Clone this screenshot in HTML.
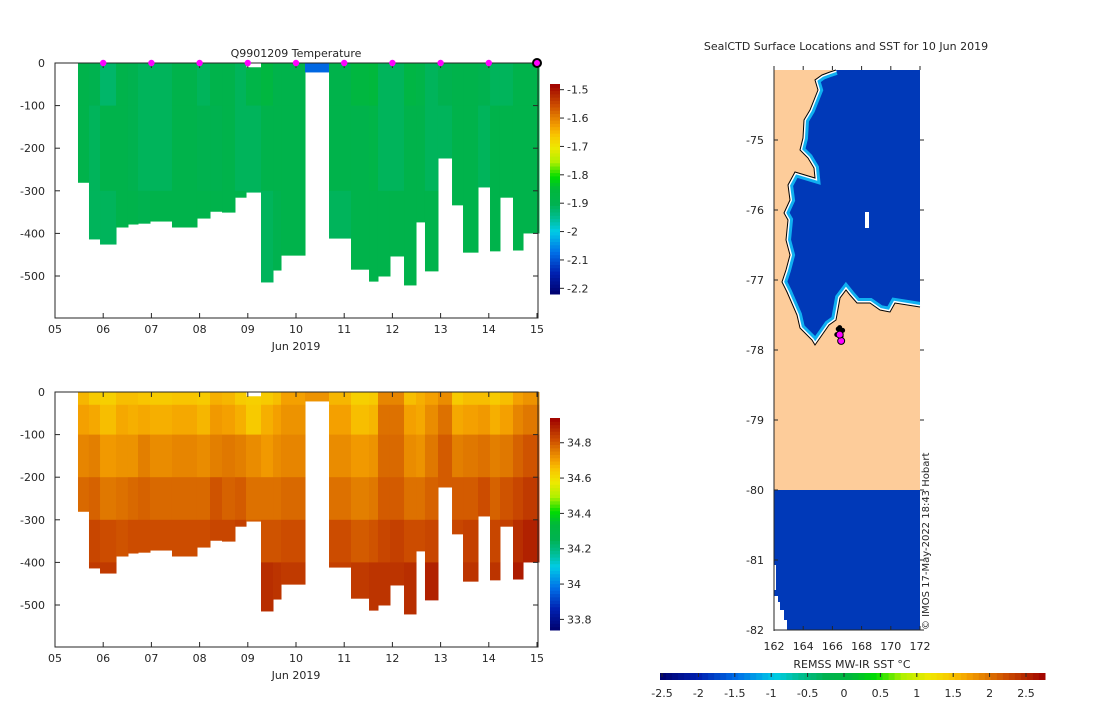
<!DOCTYPE html>
<html><head><meta charset="utf-8"><style>
body{margin:0;background:#fff;width:1100px;height:700px;overflow:hidden;font-family:"DejaVu Sans","Liberation Sans",sans-serif;}
svg text{font-family:"DejaVu Sans","Liberation Sans",sans-serif;fill:#262626;}
</style></head><body>
<svg id="s" width="1100" height="700" viewBox="0 0 1100 700" xmlns="http://www.w3.org/2000/svg"></svg>
<script>
// ---- data ----
const colEdges=[5.477,5.705,5.934,6.266,6.514,6.722,6.971,7.427,7.946,8.216,8.465,8.734,8.963,9.274,9.523,9.689,10.187,10.685,11.141,11.515,11.701,11.950,12.241,12.490,12.676,12.946,13.237,13.465,13.776,14.025,14.232,14.502,14.710,15.041];
const maxDepth=[280,413,425,385,378,376,371,385,364,348,350,315,303,514,486,451,21,411,484,512,500,453,521,373,488,223,333,444,291,441,315,439,399];
const topDepth=[0,0,0,0,0,0,0,0,0,0,0,0,10,0,0,0,0,0,0,0,0,0,0,0,0,0,0,0,0,0,0,0,0];
const binBounds=[0,30,100,200,300,400,560];
const sal0=[34.67,34.64,34.63,34.66,34.66,34.65,34.64,34.65,34.64,34.68,34.67,34.64,34.63,34.64,34.66,34.70,34.72,34.67,34.63,34.64,34.74,34.74,34.66,34.68,34.70,34.73,34.64,34.66,34.66,34.64,34.66,34.70,34.72];
const sal1=[34.70,34.69,34.66,34.69,34.68,34.69,34.68,34.69,34.67,34.71,34.70,34.68,34.64,34.68,34.70,34.72,34.72,34.70,34.66,34.67,34.77,34.77,34.70,34.69,34.73,34.77,34.69,34.70,34.71,34.68,34.70,34.74,34.76];
const sal2=[34.74,34.75,34.71,34.72,34.72,34.75,34.73,34.74,34.73,34.75,34.76,34.75,34.73,34.71,34.73,34.74,34.72,34.73,34.71,34.72,34.78,34.78,34.73,34.72,34.76,34.80,34.75,34.76,34.77,34.75,34.76,34.79,34.81];
const sal3=[34.78,34.79,34.76,34.77,34.78,34.79,34.78,34.78,34.78,34.81,34.79,34.80,34.77,34.77,34.77,34.78,34.72,34.77,34.75,34.76,34.80,34.80,34.77,34.77,34.79,34.80,34.80,34.80,34.82,34.79,34.81,34.83,34.85];
const sal4=[34.80,34.83,34.82,34.81,34.82,34.82,34.82,34.82,34.82,34.83,34.83,34.84,34.80,34.81,34.81,34.82,34.72,34.82,34.80,34.81,34.83,34.84,34.82,34.82,34.83,34.80,34.83,34.84,34.82,34.83,34.84,34.87,34.89];
const sal5=[34.80,34.85,34.85,34.85,34.85,34.85,34.85,34.85,34.85,34.85,34.85,34.84,34.80,34.87,34.86,34.85,34.72,34.84,34.85,34.86,34.86,34.86,34.87,34.82,34.89,34.80,34.83,34.86,34.82,34.86,34.84,34.90,34.90];
const tmp0=[-1.89,-1.90,-1.92,-1.89,-1.90,-1.91,-1.91,-1.89,-1.91,-1.89,-1.89,-1.91,-1.88,-1.86,-1.89,-1.89,-2.08,-1.89,-1.86,-1.85,-1.91,-1.91,-1.87,-1.88,-1.91,-1.90,-1.89,-1.89,-1.90,-1.91,-1.91,-1.89,-1.89];
const tmp1=[-1.89,-1.91,-1.89,-1.89,-1.90,-1.91,-1.91,-1.89,-1.90,-1.90,-1.89,-1.91,-1.91,-1.89,-1.89,-1.89,-2.08,-1.89,-1.89,-1.88,-1.91,-1.91,-1.89,-1.89,-1.91,-1.91,-1.89,-1.89,-1.91,-1.89,-1.89,-1.89,-1.89];
const tmp2=[-1.89,-1.91,-1.91,-1.89,-1.89,-1.90,-1.89,-1.89,-1.89,-1.89,-1.89,-1.89,-1.91,-1.91,-1.90,-1.89,-2.08,-1.91,-1.89,-1.89,-1.89,-1.89,-1.89,-1.89,-1.89,-1.89,-1.89,-1.89,-1.89,-1.89,-1.89,-1.89,-1.89];
const tmpBins=[0,100,300,560];
const markerDays=[6,7,8,9,10,11,12,13,14];
const xTickDays=[5,6,7,8,9,10,11,12,13,14,15];
const xTickLabels=["05","06","07","08","09","10","11","12","13","14","15"];
const depthTicks=[0,-100,-200,-300,-400,-500];
const tempCbTicks=[-1.5,-1.6,-1.7,-1.8,-1.9,-2,-2.1,-2.2];
const salCbTicks=[34.8,34.6,34.4,34.2,34,33.8];
const sstTicks=[-2.5,-2,-1.5,-1,-0.5,0,0.5,1,1.5,2,2.5];
const lonTicks=[162,164,166,168,170,172];
const latTicks=[-75,-76,-77,-78,-79,-80,-81,-82];
const sealLon=[166.5,166.6,166.4,166.7,166.3,166.5];
const sealLat=[-77.75,-77.8,-77.7,-77.72,-77.78,-77.68];
const sealMagLon=[166.6,166.5];
const sealMagLat=[-77.87,-77.78];
// ---- helpers ----
const S=document.getElementById('s');const NS='http://www.w3.org/2000/svg';
function mk(t,a,p){const e=document.createElementNS(NS,t);for(const k in a)e.setAttribute(k,a[k]);(p||S).appendChild(e);return e;}
const stops=[[0,[0,0,110]],[0.1,[0,32,176]],[0.2,[0,112,232]],[0.3,[0,204,230]],[0.36,[0,190,150]],[0.43,[0,178,80]],[0.5,[0,184,60]],[0.56,[0,221,0]],[0.63,[176,240,0]],[0.7,[240,232,0]],[0.76,[248,196,0]],[0.8,[244,160,0]],[0.85,[224,120,0]],[0.9,[204,76,0]],[0.95,[180,40,0]],[1,[160,0,0]]];
function cmap(t){t=Math.max(0,Math.min(1,t));for(let i=1;i<stops.length;i++){if(t<=stops[i][0]){const a=stops[i-1],b=stops[i],f=(t-a[0])/(b[0]-a[0]);const c=a[1].map((v,j)=>Math.round(v+(b[1][j]-v)*f));return `rgb(${c})`;}}return 'rgb(160,0,0)';}
function txt(x,y,s,o,p){const e=mk('text',Object.assign({x:x,y:y,'font-size':11},o||{}),p);e.textContent=s;return e;}
const X=d=>55+(d-5)*48.2;
// ---- section panels ----
function panel(y0,vals,bins,vmin,vmax,name){
 const Y=z=>y0+z*0.426;const bottom=y0+255;
 const g=mk('g',{});
 for(let c=0;c<maxDepth.length;c++){
  for(let b=0;b<bins.length-1;b++){
   const z0=Math.max(bins[b],topDepth[c]),z1=Math.min(bins[b+1],maxDepth[c]);if(z1<=z0)continue;
   const r=mk('rect',{x:X(colEdges[c]),y:Y(z0),width:X(colEdges[c+1])-X(colEdges[c])+0.5,height:Y(z1)-Y(z0)+0.5,fill:cmap((vals[b][c]-vmin)/(vmax-vmin))},g);
   
  }
 }
 mk('rect',{x:55,y:y0,width:483,height:255,fill:'none',stroke:'#262626','stroke-width':1});
 xTickDays.forEach((d,i)=>{mk('line',{x1:X(d),x2:X(d),y1:bottom,y2:bottom-5,stroke:'#262626'});mk('line',{x1:X(d),x2:X(d),y1:y0,y2:y0+5,stroke:'#262626'});txt(X(d),bottom+15,xTickLabels[i],{'text-anchor':'middle'});});
 depthTicks.forEach(v=>{const y=Y(-v);mk('line',{x1:55,x2:60,y1:y,y2:y,stroke:'#262626'});mk('line',{x1:538,x2:533,y1:y,y2:y,stroke:'#262626'});txt(45,y+4,String(v),{'text-anchor':'end'});});
 txt(296,bottom+32,'Jun 2019',{'text-anchor':'middle'});
}
panel(63,[tmp0,tmp1,tmp2],tmpBins,-2.22,-1.48,'temperature-section');
panel(392,[sal0,sal1,sal2,sal3,sal4,sal5],binBounds,33.74,34.94,'salinity-section');
txt(296,57,'Q9901209  Temperature',{'text-anchor':'middle'});
markerDays.forEach(d=>{const c=mk('circle',{cx:X(d),cy:63,r:3.2,fill:'#ff00ff'});});
mk('circle',{cx:X(15),cy:63,r:4,fill:'#ff00ff',stroke:'#000','stroke-width':2});
// ---- colorbars ----
function vbar(x,y0,y1,vmin,vmax,ticks,name){
 const g=mk('g',{});
 const n=64;for(let i=0;i<n;i++){mk('rect',{x:x,y:y1-(i+1)*(y1-y0)/n,width:10,height:(y1-y0)/n+0.5,fill:cmap((i+0.5)/n)},g);}
 const Yc=v=>y1-(v-vmin)/(vmax-vmin)*(y1-y0);
 ticks.forEach(v=>{const y=Yc(v);mk('line',{x1:x+10,x2:x+14,y1:y,y2:y,stroke:'#262626'},g);txt(x+17,y+4,String(v),{},g);});
}
vbar(550,84,294,-2.22,-1.48,tempCbTicks,'temperature-colorbar');
vbar(550,418,630,33.74,34.94,salCbTicks,'salinity-colorbar');
// ---- map ----
const LX=l=>774+(l-162)*14.6, LY=a=>140+(-75-a)*70;
const mg=mk('g',{});
mk('rect',{x:774,y:70,width:146,height:420,fill:'#fdcc9a'},mg);
mk('rect',{x:774,y:490,width:146,height:140,fill:'#0039b8'},mg);
mk('path',{d:'M774,565 H776 V590 H774 Z M774,596 H778 V602 H780 V610 H784 V620 H787 V630 H774 Z',fill:'#fff'},mg);
const coast='836,70 830,72 822,75 815,80 818,90 810,110 804,120 803,138 800,150 808,158 814,168 815,178 795,172 788,185 790,200 784,213 788,220 786,240 790,255 786,270 782,282 787,292 797,315 800,328 812,340 815,345 829,325 836,320 840,298 846,290 850,295 857,303 870,303 880,310 890,312 895,303 920,307';
mk('clipPath',{id:'oc'},mg);mk('polygon',{points:coast+' 920,70'},document.getElementById('oc'));
mk('polygon',{points:coast+' 920,70',fill:'#0039b8'},mg);
mk('polyline',{points:coast,fill:'none',stroke:'#10b0f0','stroke-width':10,'clip-path':'url(#oc)'},mg);
mk('polyline',{points:coast,fill:'none',stroke:'#fff','stroke-width':4,'clip-path':'url(#oc)'},mg);
mk('polyline',{points:coast,fill:'none',stroke:'#000','stroke-width':1},mg);
mk('rect',{x:865,y:212,width:4,height:16,fill:'#fff'},mg);
sealLon.forEach((l,i)=>{const c=mk('circle',{cx:LX(l),cy:LY(sealLat[i]),r:2.5,fill:'#000'},mg);});
sealMagLon.forEach((l,i)=>{const c=mk('circle',{cx:LX(l),cy:LY(sealMagLat[i]),r:3.5,fill:'#ff00ff',stroke:'#000','stroke-width':1},mg);});
mk('line',{x1:774,x2:774,y1:70,y2:631,stroke:'#262626'});
mk('line',{x1:774,x2:920,y1:630,y2:630,stroke:'#262626'});
lonTicks.forEach(l=>{mk('line',{x1:LX(l),x2:LX(l),y1:630,y2:626,stroke:'#262626'});mk('line',{x1:LX(l),x2:LX(l),y1:66,y2:70,stroke:'#262626'});txt(LX(l),650,String(l),{'text-anchor':'middle'});});
latTicks.forEach(a=>{mk('line',{x1:774,x2:778,y1:LY(a),y2:LY(a),stroke:'#262626'});mk('line',{x1:920,x2:924,y1:LY(a),y2:LY(a),stroke:'#262626'});txt(764,LY(a)+4,String(a),{'text-anchor':'end'});});
txt(846,50,'SealCTD Surface Locations and SST for 10 Jun 2019',{'text-anchor':'middle'});
const cr=txt(0,0,'© IMOS 17-May-2022 18:43 Hobart',{'font-size':10,transform:'translate(929,630) rotate(-90)'});
// SST colorbar
const SX=v=>844+v*72.8;
const sg=mk('g',{});
for(let i=0;i<64;i++){mk('rect',{x:660+i*385/64,y:673,width:385/64+0.5,height:7,fill:cmap((i+0.5)/64)},sg);}
sstTicks.forEach(v=>{mk('line',{x1:SX(v),x2:SX(v),y1:673,y2:677,stroke:'#262626'},sg);txt(SX(v),697,String(v),{'text-anchor':'middle'},sg);});
txt(852,668,'REMSS MW-IR SST °C',{'text-anchor':'middle'});
</script>
</body></html>
